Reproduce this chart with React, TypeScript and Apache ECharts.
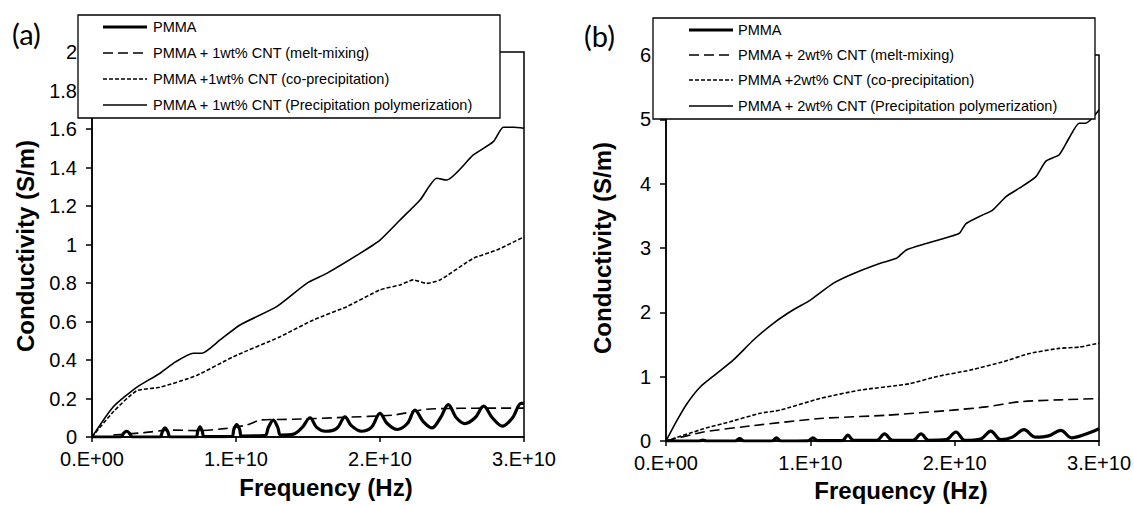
import React, { useEffect, useRef } from "react";
import * as echarts from "echarts";

// x values are in units of 1E10 Hz, y values in S/m
const xTickValues = [0, 1, 2, 3];
const xTickLabels = ["0.E+00", "1.E+10", "2.E+10", "3.E+10"];

const legendNamesA = [
  "PMMA",
  "PMMA + 1wt% CNT (melt-mixing)",
  "PMMA +1wt% CNT (co-precipitation)",
  "PMMA + 1wt% CNT (Precipitation polymerization)",
];
const legendNamesB = [
  "PMMA",
  "PMMA + 2wt% CNT (melt-mixing)",
  "PMMA +2wt% CNT (co-precipitation)",
  "PMMA + 2wt% CNT (Precipitation polymerization)",
];

const aPmma: [number, number][] = [
  [0, 0], [0.2, 0], [0.22, 0.02], [0.24, 0.03], [0.26, 0.02], [0.28, 0],
  [0.47, 0], [0.49, 0.03], [0.507, 0.047], [0.525, 0.03], [0.545, 0],
  [0.72, 0], [0.735, 0.03], [0.75, 0.053], [0.765, 0.03], [0.78, 0.002],
  [0.97, 0.003], [0.985, 0.04], [1.005, 0.065], [1.025, 0.04], [1.04, 0.005],
  [1.2, 0.007], [1.225, 0.05], [1.259, 0.088], [1.29, 0.05], [1.31, 0.01],
  [1.4, 0.015], [1.46, 0.05], [1.514, 0.1], [1.56, 0.05], [1.62, 0.03],
  [1.7, 0.045], [1.757, 0.105], [1.8, 0.06], [1.87, 0.03],
  [1.94, 0.05], [2.0, 0.123], [2.05, 0.07], [2.12, 0.039],
  [2.19, 0.07], [2.243, 0.14], [2.3, 0.08], [2.36, 0.047],
  [2.42, 0.1], [2.474, 0.168], [2.53, 0.1], [2.59, 0.07],
  [2.66, 0.1], [2.72, 0.16], [2.78, 0.1], [2.85, 0.056],
  [2.92, 0.1], [2.98, 0.175], [3.0, 0.175],
];
const aMelt: [number, number][] = [
  [0.148, 0.01], [0.356, 0.022], [0.54, 0.036], [0.75, 0.033], [0.935, 0.045],
  [1.074, 0.062], [1.167, 0.088], [1.398, 0.092], [1.745, 0.102], [2.093, 0.114],
  [2.324, 0.144], [2.556, 0.149], [2.787, 0.15], [3.0, 0.15],
];
const aCoPrec: [number, number][] = [
  [0, 0], [0.148, 0.131], [0.31, 0.24], [0.47, 0.258], [0.727, 0.32],
  [0.981, 0.417], [1.306, 0.521], [1.537, 0.608], [1.769, 0.677], [2.0, 0.764],
  [2.139, 0.79], [2.231, 0.816], [2.324, 0.798], [2.417, 0.816], [2.648, 0.928],
  [2.81, 0.971], [3.0, 1.04],
];
const aPrecPoly: [number, number][] = [
  [0, 0], [0.148, 0.157], [0.31, 0.258], [0.47, 0.33], [0.58, 0.39],
  [0.704, 0.435], [0.762, 0.435], [0.889, 0.504], [1.028, 0.582], [1.282, 0.677],
  [1.491, 0.798], [1.63, 0.85], [1.861, 0.954], [2.0, 1.023], [2.139, 1.127],
  [2.278, 1.231], [2.394, 1.344], [2.463, 1.335], [2.648, 1.465], [2.787, 1.534],
  [2.856, 1.609], [2.926, 1.609], [3.0, 1.604],
];

const bPmma: [number, number][] = [
  [0, 0], [0.23, 0], [0.256, 0.015], [0.28, 0],
  [0.48, 0], [0.51, 0.036], [0.54, 0],
  [0.735, 0], [0.765, 0.05], [0.795, 0],
  [0.985, 0.003], [1.018, 0.05], [1.05, 0.005],
  [1.22, 0.005], [1.26, 0.09], [1.3, 0.01],
  [1.46, 0.01], [1.514, 0.11], [1.57, 0.01],
  [1.71, 0.01], [1.767, 0.11], [1.82, 0.01],
  [1.94, 0.02], [2.009, 0.14], [2.07, 0.01],
  [2.18, 0.03], [2.25, 0.155], [2.32, 0.02],
  [2.4, 0.06], [2.48, 0.176], [2.56, 0.06],
  [2.65, 0.08], [2.735, 0.166], [2.81, 0.05],
  [2.9, 0.1], [3.0, 0.19],
];
const bMelt: [number, number][] = [
  [0, 0], [0.26, 0.14], [0.606, 0.24], [1.066, 0.35], [1.527, 0.4],
  [1.987, 0.48], [2.217, 0.53], [2.448, 0.61], [2.724, 0.64], [3.0, 0.66],
];
const bCoPrec: [number, number][] = [
  [0, 0], [0.26, 0.19], [0.444, 0.3], [0.652, 0.43], [0.79, 0.48],
  [1.066, 0.66], [1.342, 0.79], [1.688, 0.89], [1.872, 1.0], [2.102, 1.1],
  [2.332, 1.23], [2.517, 1.36], [2.724, 1.44], [2.862, 1.46], [3.0, 1.52],
];
const bPrecPoly: [number, number][] = [
  [0, 0], [0.076, 0.32], [0.145, 0.58], [0.237, 0.84], [0.352, 1.05],
  [0.467, 1.26], [0.606, 1.57], [0.744, 1.83], [0.882, 2.04], [1.0, 2.19],
  [1.158, 2.45], [1.296, 2.6], [1.48, 2.76], [1.596, 2.84], [1.665, 2.97],
  [1.803, 3.07], [1.987, 3.19], [2.033, 3.23], [2.079, 3.38], [2.171, 3.49],
  [2.263, 3.59], [2.356, 3.8], [2.448, 3.93], [2.563, 4.11], [2.632, 4.35],
  [2.724, 4.45], [2.793, 4.71], [2.862, 4.94], [2.908, 4.94], [2.954, 5.02],
  [3.0, 5.15],
];

const FONT = "'Liberation Sans', Arial, sans-serif";
const styles = [
  { width: 3.2, type: "solid" as any },
  { width: 1.6, type: [10, 5] as any },
  { width: 1.6, type: [4, 2] as any },
  { width: 1.6, type: "solid" as any },
];

function xAxisCfg(gridIndex: number) {
  return {
    gridIndex,
    type: "value",
    min: 0,
    max: 3,
    interval: 1,
    axisLine: { show: true, onZero: false, lineStyle: { color: "#000", width: 1.5 } },
    axisTick: { show: true, inside: false, length: 5, lineStyle: { color: "#000", width: 1.5 } },
    axisLabel: {
      margin: 12,
      color: "#000",
      fontSize: 20,
      fontFamily: FONT,
      showMinLabel: true,
      showMaxLabel: true,
      formatter: (v: number) => xTickLabels[xTickValues.indexOf(Math.round(v))] ?? "",
    },
    splitLine: { show: false },
  };
}
function yAxisCfg(gridIndex: number, max: number, interval: number) {
  return {
    gridIndex,
    type: "value",
    min: 0,
    max,
    interval,
    axisLine: { show: true, onZero: false, lineStyle: { color: "#000", width: 1.5 } },
    axisTick: { show: true, inside: false, length: 6, lineStyle: { color: "#000", width: 1.5 } },
    axisLabel: { margin: 15, color: "#000", fontSize: 20, fontFamily: FONT, showMinLabel: true, showMaxLabel: true },
    splitLine: { show: false },
  };
}

function legendGraphic(x: number, y: number, w: number, h: number, lineX: number, textX: number, rows: number[], names: string[]) {
  const els: any[] = [
    { type: "rect", z: 100, shape: { x, y, width: w, height: h }, style: { fill: "#fff", stroke: "#000", lineWidth: 1.3 } },
  ];
  names.forEach((n, i) => {
    els.push({
      type: "line",
      z: 101,
      shape: { x1: lineX, y1: rows[i], x2: lineX + 44, y2: rows[i] },
      style: { stroke: "#000", lineWidth: styles[i].width, lineDash: Array.isArray(styles[i].type) ? styles[i].type : null },
    });
    els.push({
      type: "text",
      z: 101,
      x: textX,
      y: rows[i],
      style: { text: n, fill: "#000", font: `14.5px ${FONT}`, textAlign: "left", textVerticalAlign: "middle" },
    });
  });
  return els;
}

export default function App() {
  const ref = useRef<HTMLDivElement>(null);
  useEffect(() => {
    if (!ref.current) return;
    const chart = echarts.init(ref.current, null, { renderer: "svg" });
    const seriesA = [aPmma, aMelt, aCoPrec, aPrecPoly].map((d, i) => ({
      name: legendNamesA[i],
      type: "line",
      xAxisIndex: 0,
      yAxisIndex: 0,
      data: d,
      showSymbol: false,
      symbol: "none",
      smooth: i === 0 ? 0.35 : 0.2,
      lineStyle: { color: "#000", width: styles[i].width, type: styles[i].type },
      z: 2,
    }));
    const seriesB = [bPmma, bMelt, bCoPrec, bPrecPoly].map((d, i) => ({
      name: legendNamesB[i],
      type: "line",
      xAxisIndex: 1,
      yAxisIndex: 1,
      data: d,
      showSymbol: false,
      symbol: "none",
      smooth: i === 0 ? 0.35 : 0.2,
      lineStyle: { color: "#000", width: styles[i].width, type: styles[i].type },
      z: 2,
    }));
    chart.setOption({
      animation: false,
      backgroundColor: "#fff",
      grid: [
        { left: 92, top: 52, width: 432, height: 385, show: true, borderColor: "#000", borderWidth: 1.5, backgroundColor: "transparent" },
        { left: 666, top: 55, width: 434, height: 386, show: true, borderColor: "#000", borderWidth: 1.5, backgroundColor: "transparent" },
      ],
      xAxis: [xAxisCfg(0), xAxisCfg(1)],
      yAxis: [yAxisCfg(0, 2, 0.2), yAxisCfg(1, 6, 1)],
      series: [...seriesA, ...seriesB],
      graphic: [
        { type: "text", x: 12, y: 33, style: { text: "(a)", fill: "#000", font: "29px Lato, 'Noto Sans', sans-serif", textVerticalAlign: "middle" } },
        { type: "text", x: 584, y: 35, style: { text: "(b)", fill: "#000", font: "29px Lato, 'Noto Sans', sans-serif", textVerticalAlign: "middle" } },
        { type: "text", x: 326, y: 487, style: { text: "Frequency (Hz)", fill: "#000", font: `bold 24px ${FONT}`, textAlign: "center", textVerticalAlign: "middle" } },
        { type: "text", x: 901, y: 490, style: { text: "Frequency (Hz)", fill: "#000", font: `bold 24px ${FONT}`, textAlign: "center", textVerticalAlign: "middle" } },
        { type: "text", x: 25, y: 246, rotation: Math.PI / 2, style: { text: "Conductivity (S/m)", fill: "#000", font: `bold 24px ${FONT}`, textAlign: "center", textVerticalAlign: "middle" } },
        { type: "text", x: 602, y: 248, rotation: Math.PI / 2, style: { text: "Conductivity (S/m)", fill: "#000", font: `bold 24px ${FONT}`, textAlign: "center", textVerticalAlign: "middle" } },
        ...legendGraphic(78, 15, 422, 103, 103, 153, [27, 53, 79, 105], legendNamesA),
        ...legendGraphic(653, 18, 442, 101, 689, 738, [30, 55, 80, 106], legendNamesB),
      ],
    });
    return () => chart.dispose();
  }, []);
  return <div ref={ref} style={{ position: "fixed", left: 0, top: 0, width: 1134, height: 505 }} />;
}
